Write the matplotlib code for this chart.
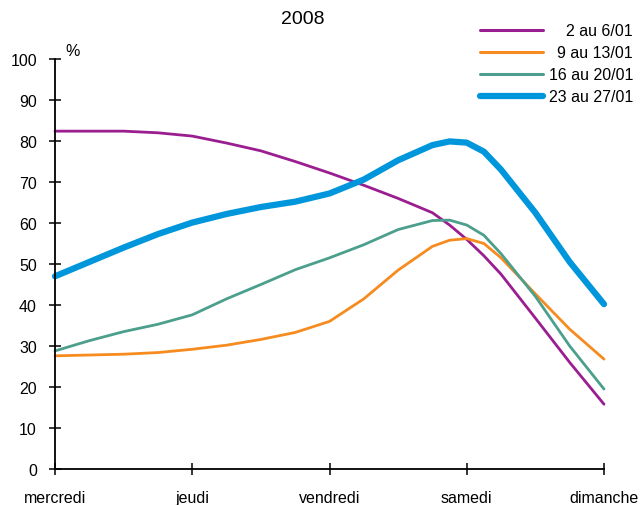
import numpy as np
import matplotlib
matplotlib.use("Agg")
import matplotlib.pyplot as plt
from matplotlib.lines import Line2D

plt.rcParams['font.family'] = ['Liberation Sans', 'DejaVu Sans']

days = ["mercredi", "jeudi", "vendredi", "samedi", "dimanche"]
# readings every quarter day (denser round the samedi peak), mercredi -> dimanche
x_pos = [0, 0.25, 0.5, 0.75, 1, 1.25, 1.5, 1.75, 2, 2.25, 2.5, 2.75, 2.875, 3, 3.125, 3.25, 3.5, 3.75, 4]

s_2_6 = [82.4, 82.4, 82.4, 82.0, 81.2, 79.5, 77.6, 75.0, 72.2, 69.2, 66.0, 62.5, 59.5, 56.0, 52.0, 47.5, 36.8, 26.0, 15.8]
s_9_13 = [27.6, 27.8, 28.0, 28.4, 29.2, 30.2, 31.6, 33.3, 36.0, 41.5, 48.5, 54.3, 55.8, 56.2, 55.0, 51.5, 42.7, 34.1, 26.8]
s_16_20 = [28.8, 31.3, 33.5, 35.3, 37.6, 41.5, 45.0, 48.6, 51.5, 54.7, 58.4, 60.6, 60.7, 59.5, 57.0, 52.5, 42.1, 30.0, 19.5]
s_23_27 = [47.0, 50.5, 54.0, 57.3, 60.1, 62.2, 63.9, 65.2, 67.2, 70.6, 75.3, 79.0, 79.9, 79.6, 77.4, 73.0, 62.5, 50.5, 40.2]

labels = ["2 au 6/01", "9 au 13/01", "16 au 20/01", "23 au 27/01"]
colors = ["#9a1e90", "#f68b1f", "#4b9f8c", "#0096db"]
widths = [2.0, 2.0, 2.0, 4.5]
series = [s_2_6, s_9_13, s_16_20, s_23_27]

W, H = 643, 506
fig = plt.figure(figsize=(W / 100, H / 100), dpi=100)
ax = fig.add_axes([55 / W, 1 - 470 / H, (604 - 55) / W, (470 - 60) / H])

for s, c, lw in zip(series, colors, widths):
    ax.plot(x_pos, s, color=c, lw=lw, solid_capstyle='round', solid_joinstyle='round', clip_on=False)

ax.set_xlim(0, 4)
ax.set_ylim(0, 100)
ax.set_xticks(range(5))
ax.set_xticklabels(days)
ax.set_yticks(range(0, 101, 10))
for sp in ['top', 'right']:
    ax.spines[sp].set_visible(False)
for sp in ['left', 'bottom']:
    ax.spines[sp].set_linewidth(1.3)
ax.tick_params(axis='both', direction='inout', length=8, width=1.1, labelsize=11.5)
ax.tick_params(axis='x', pad=11)
ax.tick_params(axis='y', pad=9)

ax.text(73 / W, 1 - 52 / H, "%", transform=fig.transFigure, fontsize=11.5, ha='center', va='center')
fig.text(303 / W, 1 - 20 / H, "2008", fontsize=14, ha='center', va='center')

# legend built by hand: line on the left, label right aligned
rows = [31, 53, 75, 97]
for y, c, lw, lab in zip(rows, colors, widths, labels):
    fig.add_artist(Line2D([480 / W, 543 / W], [1 - y / H, 1 - y / H], color=c,
                          lw=lw if lw > 3 else 2.2, solid_capstyle='round',
                          transform=fig.transFigure))
    fig.text(633 / W, 1 - y / H, lab, fontsize=11.5, ha='right', va='center')

fig.savefig("out.png", dpi=100)
